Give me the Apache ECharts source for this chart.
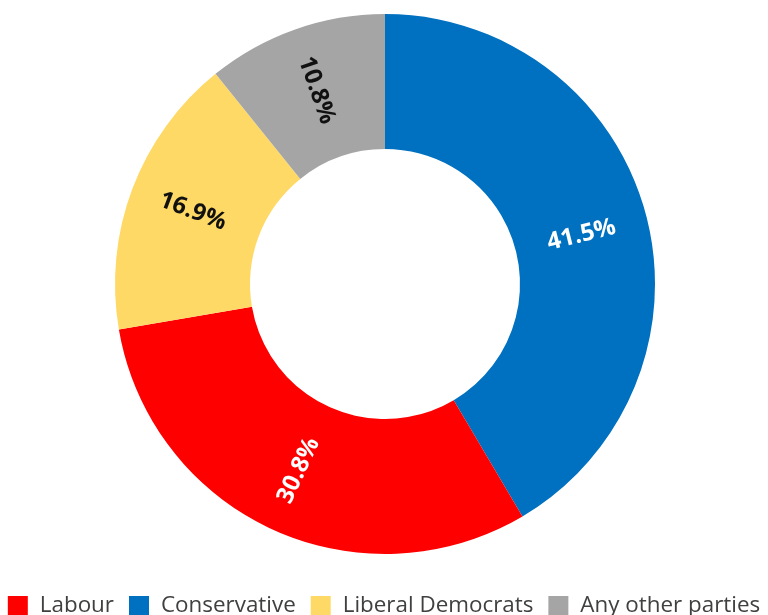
<!DOCTYPE html>
<html><head><meta charset="utf-8">
<script src="https://cdn.jsdelivr.net/npm/echarts@6/dist/echarts.min.js"></script>
<style>html,body{margin:0;padding:0;background:#fff}#c{width:768px;height:615px}</style>
</head><body><div id="c"></div>
<script>
const parties = ['Conservative', 'Labour', 'Liberal Democrats', 'Any other parties'];
const shares = [41.5, 30.8, 16.9, 10.8];
const colors = ['#0070C0', '#FF0000', '#FFD966', '#A5A5A5'];
const labelColors = ['#ffffff', '#ffffff', '#111111', '#111111'];
const legendOrder = ['Labour', 'Conservative', 'Liberal Democrats', 'Any other parties'];

const CX = 385, CY = 284, R0 = 135, R1 = 270;
// Conservative label sits at a custom angle (degrees above horizontal) in the reference
const CONS_LABEL_ANGLE = 14;

const chart = echarts.init(document.getElementById('c'), null, {renderer: 'canvas'});
const data = parties.map((p, i) => {
  const item = {name: p, value: shares[i], itemStyle: {color: colors[i]},
    label: {color: labelColors[i]}};
  if (i === 0) item.label.rotate = CONS_LABEL_ANGLE;
  return item;
});
chart.setOption({
  animation: false,
  legend: {
    data: legendOrder, top: 590, left: 'center', selectedMode: false,
    icon: 'rect', itemWidth: 20, itemHeight: 20, itemGap: 15,
    textStyle: {fontFamily: 'Open Sans', fontSize: 22.4, color: '#404040', padding: [0, 0, 0, 7]}
  },
  series: [{
    type: 'pie', center: [CX, CY], radius: [R0, R1], startAngle: 90,
    clockwise: true, avoidLabelOverlap: false, emphasis: {disabled: true},
    label: {show: true, position: 'inside', rotate: 'radial',
      formatter: p => p.value.toFixed(1) + '%',
      fontFamily: 'Open Sans', fontWeight: 'bold', fontSize: 24},
    labelLine: {show: false},
    labelLayout: function (params) {
      if (params.dataIndex === 0) {
        const a = CONS_LABEL_ANGLE * Math.PI / 180, r = (R0 + R1) / 2;
        return {x: CX + r * Math.cos(a), y: CY - r * Math.sin(a),
          align: 'center', verticalAlign: 'middle'};
      }
      return {};
    },
    data: data
  }]
});
</script></body></html>
